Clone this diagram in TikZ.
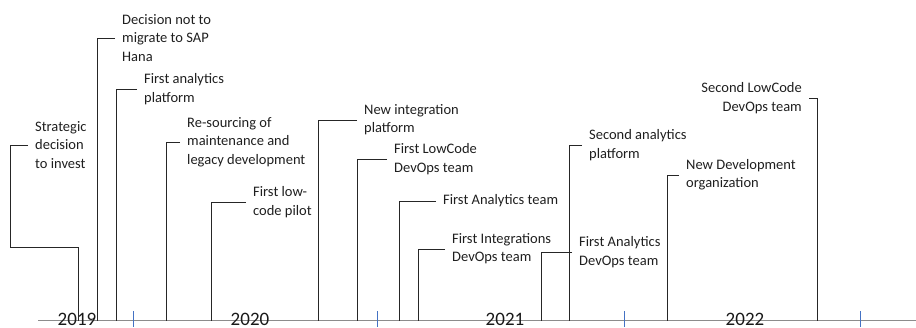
\documentclass[tikz,border=0pt]{standalone}
\usepackage{fontspec}
\setmainfont{Carlito}
\definecolor{tickblue}{RGB}{68,114,196}
\begin{document}
\begin{tikzpicture}[x=1pt,y=-1pt,
  event/.style={anchor=west,align=left,inner xsep=7pt,inner ysep=0pt,
    font=\fontsize{14.5}{18.3}\selectfont,text=black!88},
  eventr/.style={event,anchor=east,align=right},
  year/.style={inner sep=0pt,font=\fontsize{19}{22}\selectfont,text=black!90},
  leader/.style={draw=black!85,line width=0.9pt},
  axisline/.style={draw=black!45,line width=1.2pt},
  tick/.style={draw=tickblue,line width=0.9pt}]
\useasboundingbox (0,0) rectangle (916,327);

% time axis and year ticks
\coordinate (axL) at (38,320.5);
\coordinate (axR) at (916,320.5);
\draw[axisline] (axL) -- (axR);
\foreach \tx [count=\i] in {133,377,624,860}{
  \coordinate (tk\i) at (\tx,311);
  \draw[tick] (tk\i) -- (\tx,327);
}

% event labels
\node[event] (e1)  at (28,145)  {Strategic\\decision\\to invest};
\node[event] (e2)  at (115,38)  {Decision not to\\migrate to SAP\\Hana};
\node[event] (e3)  at (137,89)  {First analytics\\platform};
\node[event] (e4)  at (180,142) {Re-sourcing of\\maintenance and\\legacy development};
\node[event] (e5)  at (246,202) {First low-\\code pilot};
\node[event] (e6)  at (357,120) {New integration\\platform};
\node[event] (e7)  at (387,159) {First LowCode\\DevOps team};
\node[event] (e8)  at (436,201) {First Analytics team};
\node[event] (e9)  at (445,249) {First Integrations\\DevOps team};
\node[event] (e10) at (582,145) {Second analytics\\platform};
\node[event] (e11) at (572,252) {First Analytics\\DevOps team};
\node[event] (e12) at (679,175) {New Development\\organization};
\node[eventr] (e13) at (809,98) {Second LowCode\\DevOps team};

% points where each leader meets the axis
\coordinate (b1)  at (78,320.5);
\coordinate (b2)  at (97,320.5);
\coordinate (b3)  at (116,320.5);
\coordinate (b4)  at (166,320.5);
\coordinate (b5)  at (211,320.5);
\coordinate (b6)  at (318,320.5);
\coordinate (b7)  at (357,320.5);
\coordinate (b8)  at (399,320.5);
\coordinate (b9)  at (418,320.5);
\coordinate (b10) at (569,320.5);
\coordinate (b11) at (541,320.5);
\coordinate (b12) at (667,320.5);
\coordinate (b13) at (817,320.5);

% leaders
\draw[leader] (e1.west) -- (10,145) -- (10,247.5) -- (78,247.5) -- (b1);
\draw[leader] (e2.west) -| (b2);
\draw[leader] (e3.west) -| (b3);
\draw[leader] (e4.west) -| (b4);
\draw[leader] (e5.west) -| (b5);
\draw[leader] (e6.west) -| (b6);
\draw[leader] (e7.west) -| (b7);
\draw[leader] (e8.west) -| (b8);
\draw[leader] (e9.west) -| (b9);
\draw[leader] (e10.west) -| (b10);
\draw[leader] (e11.west) -| (b11);
\draw[leader] (e12.west) -| (b12);
\draw[leader] (e13.east) -| (b13);

% year labels
\node[year] (y19) at (77,319.5)  {2019};
\node[year] (y20) at (250,319.5) {2020};
\node[year] (y21) at (505,319.5) {2021};
\node[year] (y22) at (745,319.5) {2022};
\end{tikzpicture}
\end{document}
